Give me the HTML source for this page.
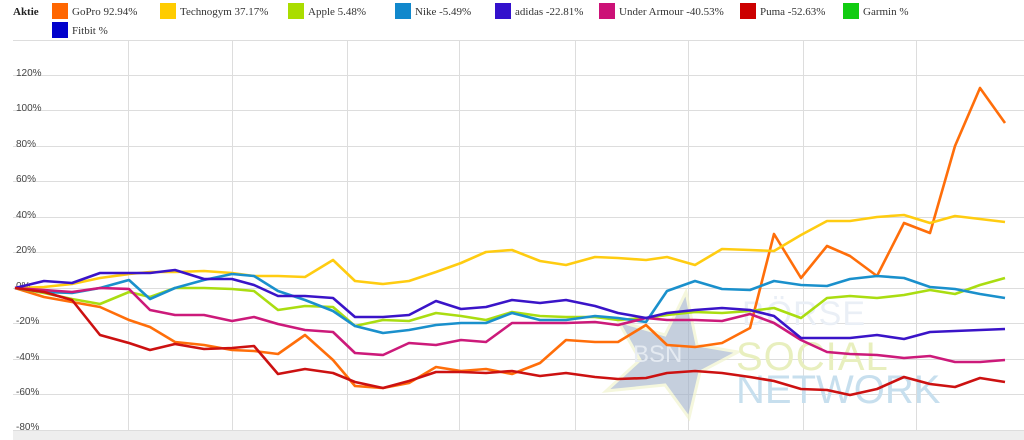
<!DOCTYPE html>
<html><head><meta charset="utf-8"><style>
body{margin:0;background:#fff;width:1024px;height:440px;overflow:hidden;font-family:"Liberation Serif",serif}
svg{position:absolute;left:0;top:0}
</style></head><body>
<svg width="1024" height="440" viewBox="0 0 1024 440">
<g font-family="Liberation Serif, serif" font-size="11" fill="#333">
<text x="13" y="15" font-weight="bold" fill="#222">Aktie</text>
<rect x="52" y="3" width="16" height="16" fill="#ff6600"/><text x="72" y="15">GoPro  92.94%</text>
<rect x="160" y="3" width="16" height="16" fill="#ffcc00"/><text x="180" y="15">Technogym  37.17%</text>
<rect x="288" y="3" width="16" height="16" fill="#aadd00"/><text x="308" y="15">Apple  5.48%</text>
<rect x="395" y="3" width="16" height="16" fill="#1188cc"/><text x="415" y="15">Nike  -5.49%</text>
<rect x="495" y="3" width="16" height="16" fill="#3311cc"/><text x="515" y="15">adidas  -22.81%</text>
<rect x="599" y="3" width="16" height="16" fill="#cc1177"/><text x="619" y="15">Under Armour  -40.53%</text>
<rect x="740" y="3" width="16" height="16" fill="#cc0000"/><text x="760" y="15">Puma  -52.63%</text>
<rect x="843" y="3" width="16" height="16" fill="#11cc11"/><text x="863" y="15">Garmin  %</text>
<rect x="52" y="22" width="16" height="16" fill="#0000cc"/><text x="72" y="34">Fitbit  %</text>
</g>
<g stroke="#ddd" stroke-width="1">
<line x1="13" y1="40.5" x2="1024" y2="40.5"/>
<line x1="13" y1="75.5" x2="1024" y2="75.5"/><line x1="13" y1="110.5" x2="1024" y2="110.5"/>
<line x1="13" y1="146.5" x2="1024" y2="146.5"/><line x1="13" y1="181.5" x2="1024" y2="181.5"/>
<line x1="13" y1="217.5" x2="1024" y2="217.5"/><line x1="13" y1="252.5" x2="1024" y2="252.5"/>
<line x1="13" y1="288.5" x2="1024" y2="288.5"/><line x1="13" y1="323.5" x2="1024" y2="323.5"/>
<line x1="13" y1="359.5" x2="1024" y2="359.5"/><line x1="13" y1="394.5" x2="1024" y2="394.5"/>
<line x1="13" y1="430.5" x2="1024" y2="430.5"/>
<line x1="128.5" y1="40" x2="128.5" y2="430"/><line x1="232.5" y1="40" x2="232.5" y2="430"/>
<line x1="347.5" y1="40" x2="347.5" y2="430"/><line x1="459.5" y1="40" x2="459.5" y2="430"/>
<line x1="575.5" y1="40" x2="575.5" y2="430"/><line x1="688.5" y1="40" x2="688.5" y2="430"/>
<line x1="803.5" y1="40" x2="803.5" y2="430"/><line x1="916.5" y1="40" x2="916.5" y2="430"/>
</g>
<g font-family="Liberation Sans, sans-serif" font-size="10" fill="#444">
<text x="16" y="76">120%</text><text x="16" y="111">100%</text><text x="16" y="147">80%</text>
<text x="16" y="182">60%</text><text x="16" y="218">40%</text><text x="16" y="253">20%</text>
<text x="16" y="289">0%</text><text x="16" y="324">-20%</text><text x="16" y="360">-40%</text>
<text x="16" y="395">-60%</text><text x="16" y="430">-80%</text>
</g>
<rect x="13" y="431" width="1011" height="9" fill="#eee"/>
<polygon points="686,292 697,345 738,352 700,372 689,418 665,385 606,391 640,360 618,321 665,335" fill="#9fb0c8" opacity="0.6" stroke="#f0f3c8" stroke-width="3"/>
<g font-family="Liberation Sans, sans-serif">
<text x="633" y="362" font-size="24" fill="#e8edf4" opacity="0.9">BSN</text>
<text x="742" y="325" font-size="34" fill="#eaeff6" letter-spacing="1">BÖRSE</text>
<text x="736" y="370" font-size="40" fill="#e8efbe" letter-spacing="1">SOCIAL</text>
<text x="736" y="403" font-size="40" fill="#c7dfee" letter-spacing="0">NETWORK</text>
</g>
<g fill="none" stroke-width="2.6" stroke-linejoin="round">
<polyline stroke="#ff6e0a" points="15,288 44,297 72,302 100,307 129,320 150,327 175,342 204,345 232,350 254,351 278,354 305,335 333,360 355,386 383,388 409,383 436,367 461,371 486,369 512,374 540,363 566,340 595,342 618,342 646,325 667,345 695,347 722,343 750,328 774,234 801,278 827,246 850,256 877,276 904,223 930,233 955,146 980,88 1005,123"/>
<polyline stroke="#ffcc11" points="15,288 44,287 72,284 100,278 129,274 150,272 175,272 204,271 232,273 254,276 278,276 305,277 333,260 355,281 383,284 409,281 436,272 461,263 486,252 512,250 540,261 566,265 595,257 618,258 646,260 667,257 695,265 722,249 750,250 774,251 801,235 827,221 850,221 877,217 904,215 930,223 955,216 980,219 1005,222"/>
<polyline stroke="#aadd11" points="15,288 44,293 72,299 100,304 129,292 150,297 175,288 204,288 232,289 254,291 278,310 305,306 333,307 355,326 383,320 409,321 436,313 461,316 486,320 512,312 540,316 566,317 595,317 618,320 646,318 667,315 695,312 722,313 750,311 774,308 801,318 827,298 850,296 877,298 904,295 930,290 955,294 980,285 1005,278"/>
<polyline stroke="#1a90cc" points="15,288 44,292 72,293 100,288 129,280 150,299 175,288 204,280 232,274 254,276 278,291 305,300 333,311 355,326 383,333 409,330 436,325 461,323 486,323 512,313 540,320 566,320 595,316 618,318 646,322 667,291 695,281 722,289 750,290 774,281 801,285 827,286 850,279 877,276 904,278 930,287 955,289 980,294 1005,298"/>
<polyline stroke="#cc1a7a" points="15,288 44,290 72,292 100,288 129,289 150,310 175,315 204,315 232,321 254,317 278,324 305,330 333,332 355,353 383,355 409,343 436,345 461,340 486,342 512,323 540,323 566,323 595,322 618,325 646,318 667,320 695,320 722,321 750,314 774,323 801,340 827,352 850,354 877,355 904,358 930,356 955,362 980,362 1005,360"/>
<polyline stroke="#3a14c8" points="15,288 44,281 72,283 100,273 129,273 150,273 175,270 204,279 232,279 254,285 278,296 305,296 333,298 355,317 383,317 409,315 436,301 461,309 486,307 512,300 540,303 566,300 595,306 618,313 646,318 667,313 695,310 722,308 750,310 774,316 801,338 827,338 850,338 877,335 904,339 930,332 955,331 980,330 1005,329"/>
<polyline stroke="#cc1111" points="15,288 44,292 72,300 100,335 129,343 150,350 175,344 204,349 232,348 254,346 278,374 305,369 333,373 355,382 383,388 409,381 436,372 461,372 486,373 512,371 540,376 566,373 595,377 618,379 646,378 667,373 695,371 722,373 750,377 774,381 801,389 827,390 850,395 877,389 904,377 930,384 955,387 980,378 1005,382"/>
</g>
</svg>
</body></html>
